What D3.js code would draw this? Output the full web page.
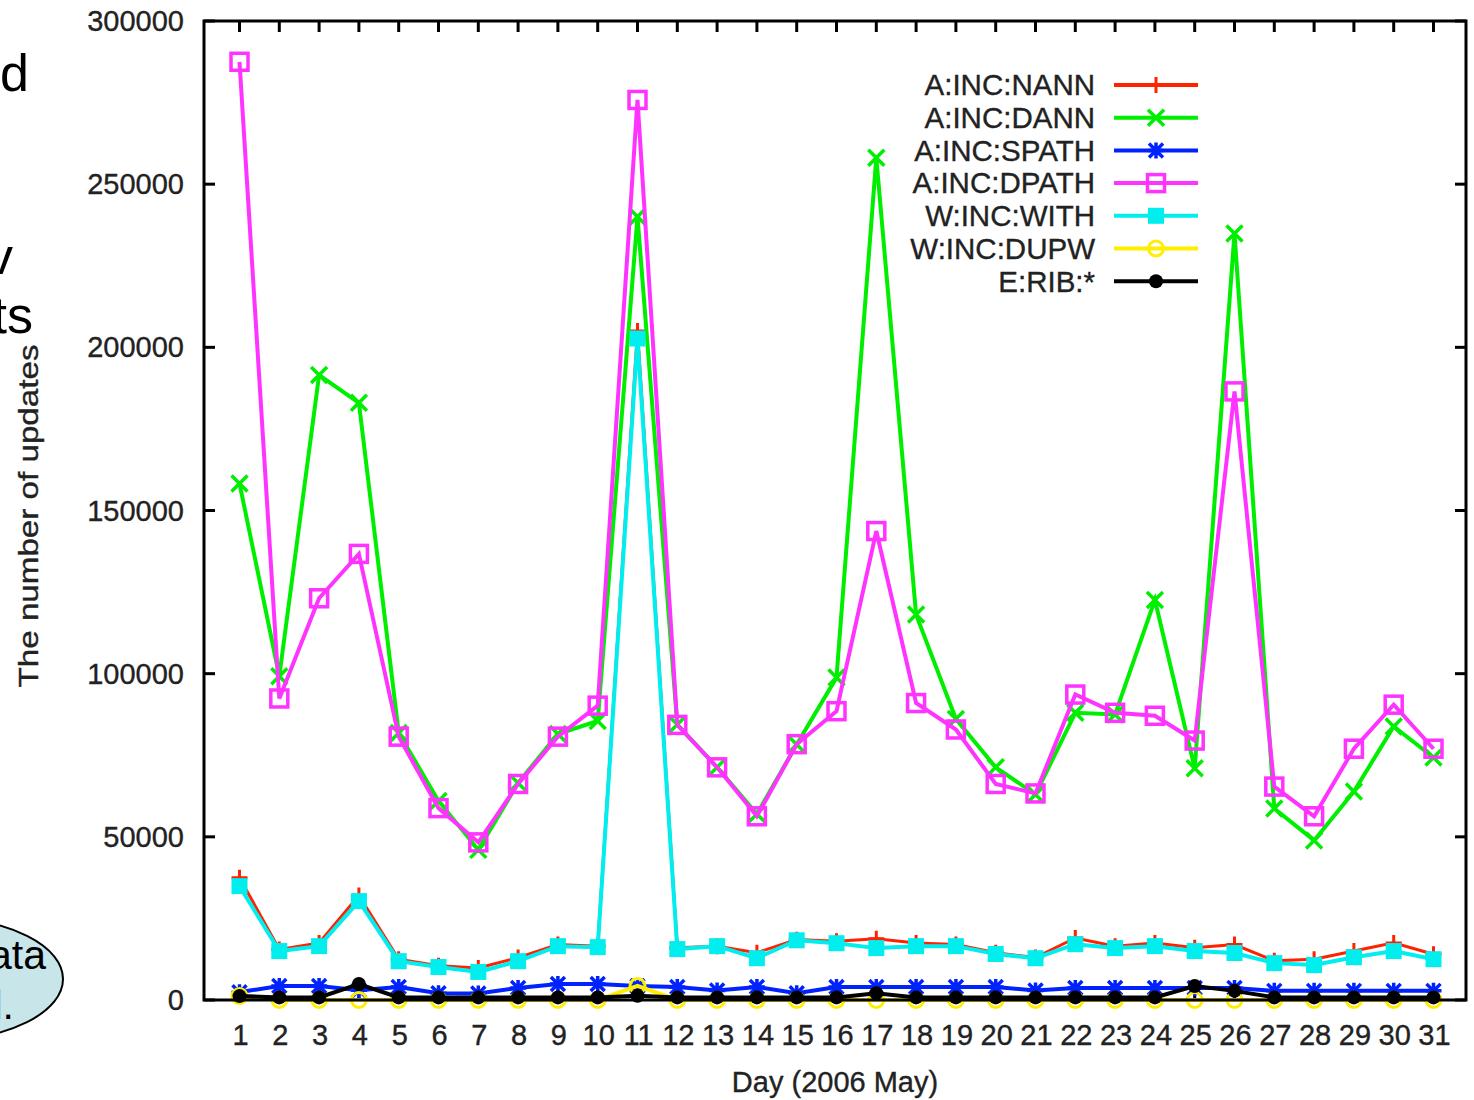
<!DOCTYPE html>
<html>
<head>
<meta charset="utf-8">
<script src="https://cdn.jsdelivr.net/npm/d3@7/dist/d3.min.js"></script>
<style>
  html, body { margin: 0; padding: 0; background: #fff; }
  svg { display: block; font-family: "Liberation Sans", Arial, Helvetica, sans-serif; }
  .lbl { fill: #222; stroke: #222; stroke-width: 0.35; }
</style>
</head>
<body>
<svg id="chart" width="1474" height="1100"></svg>
<script>
// days of May 2006
const days = d3.range(1, 32)
const yTicks = [0, 50000, 100000, 150000, 200000, 250000, 300000]

const seriesNames = ['A:INC:NANN', 'A:INC:DANN', 'A:INC:SPATH', 'A:INC:DPATH', 'W:INC:WITH', 'W:INC:DUPW', 'E:RIB:*']

// values, one per day
const nann = [37500, 15500, 17500, 32000, 12500, 10500, 9800, 13000, 17000, 16500, 205000,
  16000, 16500, 14500, 18500, 18000, 18800, 17500, 17000, 14500, 13000,
  19000, 16500, 17500, 16000, 17000, 12000, 12500, 15000, 17500, 14000]
const dann = [158300, 99200, 191500, 183000, 81800, 61000, 46000, 66500, 81500, 85500, 240000,
  84400, 71300, 57000, 78300, 98800, 258100, 118100, 86100, 71300, 63000,
  88000, 87500, 122600, 71000, 234900, 58700, 48900, 63900, 83800, 74300]
const spath = [2400, 4300, 4300, 3000, 4000, 2100, 2000, 3700, 4900, 4900, 4300,
  4000, 2900, 4000, 2100, 4000, 4000, 4000, 4000, 4000, 2900,
  3700, 3700, 3700, 3700, 3700, 2800, 2800, 2800, 2800, 2800]
const dpath = [287500, 92400, 123100, 136700, 80700, 58800, 48300, 66200, 80700, 90200, 275800,
  84300, 71300, 56300, 78400, 88500, 143700, 91000, 82900, 66200, 63300,
  93600, 88000, 87100, 79500, 186500, 65400, 56300, 77000, 90500, 77000]
const withdr = [34900, 15000, 16500, 30300, 11900, 10100, 8600, 11900, 16500, 16200, 202700,
  15600, 16500, 12800, 18300, 17400, 15900, 16500, 16500, 14100, 12800,
  17100, 15900, 16500, 15000, 14400, 11300, 10700, 13100, 15000, 12500]
const dupw = [1200, 0, 0, 0, 0, 0, 0, 0, 0, 0, 4300,
  0, 0, 0, 0, 0, 0, 0, 0, 0, 0,
  0, 0, 0, 0, 0, 0, 0, 0, 0, 0]
const rib = [1200, 800, 800, 4900, 800, 800, 800, 800, 800, 800, 1300,
  800, 800, 800, 800, 800, 2100, 800, 800, 800, 800,
  800, 800, 800, 4300, 2800, 800, 800, 800, 800, 800]

const seriesValues = [nann, dann, spath, dpath, withdr, dupw, rib]

// gnuplot-ish styles
const colors = ['#ff2200', '#00ee00', '#0022ff', '#ff33ff', '#00eeee', '#ffee00', '#000000']
const markers = ['plus', 'cross', 'star', 'box', 'boxFill', 'circle', 'circleFill']

const svg = d3.select('#chart')
const frame = { left: 204, right: 1466, top: 21, bottom: 1000 }

const x = d3.scaleLinear().domain([1, 31]).range([239.5, 1433.5])
const y = d3.scaleLinear().domain([0, 300000]).range([frame.bottom, frame.top])

// leftover slide text on the left edge
const side = svg.append('g').attr('fill', '#000').attr('font-size', 52).attr('text-anchor', 'end')
side.append('text').attr('x', 29).attr('y', 91).text('d')
side.append('text').attr('x', 13).attr('y', 274).text('v')
side.append('text').attr('x', 33).attr('y', 333).text('ts')
svg.append('ellipse')
  .attr('cx', -60).attr('cy', 979).attr('rx', 123).attr('ry', 61)
  .attr('fill', '#c8e5ea').attr('stroke', '#000').attr('stroke-width', 2)
const bub = svg.append('g').attr('fill', '#000').attr('font-size', 41).attr('text-anchor', 'end')
bub.append('text').attr('x', 46).attr('y', 969).text('ata')
bub.append('text').attr('x', 14).attr('y', 1019).text('l.')

// axes
const tickLen = 11
const axisG = svg.append('g').attr('stroke', '#000').attr('stroke-width', 3)
yTicks.forEach(v => {
  axisG.append('line').attr('x1', frame.left).attr('x2', frame.left + tickLen).attr('y1', y(v)).attr('y2', y(v))
  axisG.append('line').attr('x1', frame.right).attr('x2', frame.right - tickLen).attr('y1', y(v)).attr('y2', y(v))
})
days.forEach(d => {
  axisG.append('line').attr('x1', x(d)).attr('x2', x(d)).attr('y1', frame.top).attr('y2', frame.top + tickLen)
  axisG.append('line').attr('x1', x(d)).attr('x2', x(d)).attr('y1', frame.bottom).attr('y2', frame.bottom - tickLen)
})

svg.append('g').attr('font-size', 29).attr('text-anchor', 'end')
  .selectAll('text').data(yTicks).join('text').attr('class', 'lbl')
  .attr('x', 184).attr('y', d => y(d)).attr('dy', '0.35em')
  .text(d => d)

svg.append('g').attr('font-size', 29).attr('text-anchor', 'middle')
  .selectAll('text').data(days).join('text').attr('class', 'lbl')
  .attr('x', d => x(d) + 1).attr('y', 1045)
  .text(d => d)

svg.append('text').attr('class', 'lbl').attr('font-size', 29).attr('text-anchor', 'middle')
  .attr('x', 835).attr('y', 1092).text('Day (2006 May)')

svg.append('text').attr('class', 'lbl').attr('font-size', 28).attr('text-anchor', 'middle')
  .attr('transform', 'translate(38,516) rotate(-90)')
  .attr('textLength', 343).attr('lengthAdjust', 'spacingAndGlyphs')
  .text('The number of updates')

// point shapes
function drawMarker(g, type, color) {
  if (type === 'plus') {
    g.append('path').attr('d', 'M-8,0H8M0,-8V8').attr('stroke', color).attr('stroke-width', 3).attr('fill', 'none')
  } else if (type === 'cross') {
    g.append('path').attr('d', 'M-8,-8L8,8M-8,8L8,-8').attr('stroke', color).attr('stroke-width', 3.5).attr('fill', 'none')
  } else if (type === 'star') {
    g.append('path').attr('d', 'M-8,0H8M0,-8V8M-7,-7L7,7M-7,7L7,-7').attr('stroke', color).attr('stroke-width', 3.5).attr('fill', 'none')
  } else if (type === 'box') {
    g.append('rect').attr('x', -8.5).attr('y', -8.5).attr('width', 17).attr('height', 17)
      .attr('stroke', color).attr('stroke-width', 3.5).attr('fill', 'none')
  } else if (type === 'boxFill') {
    g.append('rect').attr('x', -8).attr('y', -8).attr('width', 16).attr('height', 16).attr('fill', color)
  } else if (type === 'circle') {
    g.append('circle').attr('r', 7.5).attr('stroke', color).attr('stroke-width', 3).attr('fill', 'none')
  } else {
    g.append('circle').attr('r', 7).attr('fill', color)
  }
}

const line = d3.line().x((d, i) => x(days[i])).y(d => y(d))

// series in gnuplot order: each line then its points
seriesValues.forEach((vals, s) => {
  const g = svg.append('g').attr('class', 'series')
  g.append('path').attr('d', line(vals))
    .attr('fill', 'none').attr('stroke', colors[s]).attr('stroke-width', s === 0 ? 3 : 4)
    .attr('stroke-linejoin', 'miter')
  vals.forEach((v, i) => {
    drawMarker(g.append('g').attr('transform', `translate(${x(days[i])},${y(v)})`), markers[s], colors[s])
  })
})

// frame on top of the lines
svg.append('rect')
  .attr('x', frame.left).attr('y', frame.top)
  .attr('width', frame.right - frame.left).attr('height', frame.bottom - frame.top)
  .attr('fill', 'none').attr('stroke', '#000').attr('stroke-width', 3)

// legend
const legend = svg.append('g')
seriesNames.forEach((name, s) => {
  const ly = 85 + s * 32.7
  legend.append('text').attr('class', 'lbl').attr('x', 1095).attr('y', ly).attr('dy', '0.35em')
    .attr('text-anchor', 'end').attr('font-size', 29.5).text(name)
  legend.append('line').attr('x1', 1114).attr('x2', 1198).attr('y1', ly).attr('y2', ly)
    .attr('stroke', colors[s]).attr('stroke-width', 4)
  drawMarker(legend.append('g').attr('transform', `translate(1156,${ly})`), markers[s], colors[s])
})
</script>
</body>
</html>
